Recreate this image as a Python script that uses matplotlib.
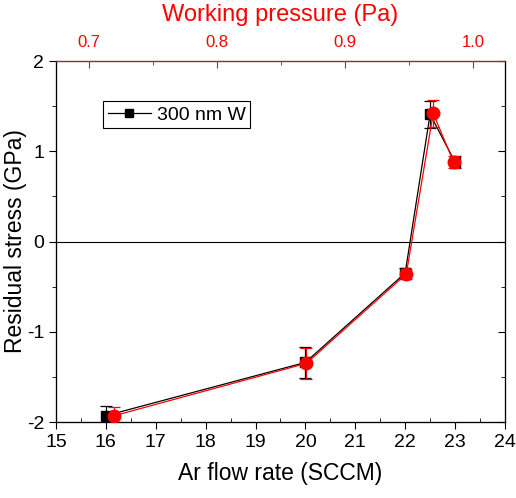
import numpy as np
import matplotlib
matplotlib.use('Agg')
import matplotlib.pyplot as plt
from matplotlib.ticker import MultipleLocator
from matplotlib.lines import Line2D

plt.rcParams['font.family'] = ['Liberation Sans', 'DejaVu Sans']
plt.rcParams['axes.unicode_minus'] = False

# --- Data ---
flow = [16, 20, 22, 22.5, 23]               # Ar flow rate (SCCM)
stress_flow = [-1.93, -1.34, -0.35, 1.41, 0.88]
err_flow = [0.11, 0.17, 0.06, 0.15, 0.07]

pressure = [0.72, 0.870, 0.948, 0.969, 0.985]  # working pressure (Pa)
stress_p = [-1.93, -1.35, -0.36, 1.42, 0.88]
err_p = [0.10, 0.17, 0.05, 0.15, 0.07]

legend_label = '300 nm W'

fig = plt.figure(figsize=(5.16, 4.98), dpi=100)
ax = fig.add_axes([0.1085, 0.1526, 0.870, 0.7249])

ax.axhline(0, color='black', lw=0.8, zorder=1)
ax.errorbar(flow, stress_flow, yerr=err_flow, color='black', lw=0.9,
            marker='s', ms=7, capsize=4, elinewidth=0.9, capthick=0.9, zorder=3)

ax.set_xlim(15, 24)
ax.set_ylim(-2, 2)
ax.xaxis.set_major_locator(MultipleLocator(1))
ax.xaxis.set_minor_locator(MultipleLocator(0.5))
ax.yaxis.set_major_locator(MultipleLocator(1))
ax.yaxis.set_minor_locator(MultipleLocator(0.5))
ax.tick_params(axis='x', which='major', direction='out', length=5, labelsize=14)
ax.tick_params(axis='x', which='minor', direction='in', length=3)
ax.tick_params(axis='y', which='both', direction='out', labelsize=14)
ax.tick_params(axis='y', which='major', length=5)
ax.tick_params(axis='y', which='minor', length=3)
ax.set_xlabel('Ar flow rate (SCCM)', fontsize=16.5, labelpad=8)
ax.set_ylabel('Residual stress (GPa)', fontsize=16.5, labelpad=0)

handle = Line2D([], [], color='black', lw=0.9, marker='s', ms=6)
leg = ax.legend([handle], [legend_label], loc='upper left',
                bbox_to_anchor=(0.105, 0.889), fontsize=14,
                fancybox=False, edgecolor='black', handlelength=2.2,
                borderpad=0.25, handletextpad=0.3, framealpha=1,
                borderaxespad=0)
leg.get_frame().set_linewidth(0.8)

# right side ticks pointing inward
ax3 = ax.twinx()
ax3.set_ylim(-2, 2)
ax3.yaxis.set_major_locator(MultipleLocator(1))
ax3.yaxis.set_minor_locator(MultipleLocator(0.5))
ax3.tick_params(axis='y', which='both', direction='in', labelright=False)
ax3.tick_params(axis='y', which='major', length=5)
ax3.tick_params(axis='y', which='minor', length=3)

ax2 = ax.twiny()
ax2.errorbar(pressure, stress_p, yerr=err_p, color='red', lw=0.9,
             marker='o', ms=9, capsize=4, elinewidth=0.9, capthick=0.9, zorder=4)
ax2.set_xlim(0.6745, 1.025)
ax2.xaxis.set_major_locator(MultipleLocator(0.1))
ax2.xaxis.set_minor_locator(MultipleLocator(0.05))
ax2.xaxis.set_major_formatter(plt.FormatStrFormatter('%.1f'))
ax2.tick_params(axis='x', which='both', direction='in', colors='red', labelsize=12)
ax2.tick_params(axis='x', which='major', length=5, pad=8)
ax2.tick_params(axis='x', which='minor', length=3)
ax2.spines['top'].set_color('red')
ax2.set_xlabel('Working pressure (Pa)', color='red', fontsize=17, labelpad=10)

fig.savefig('out.png', dpi=100)
